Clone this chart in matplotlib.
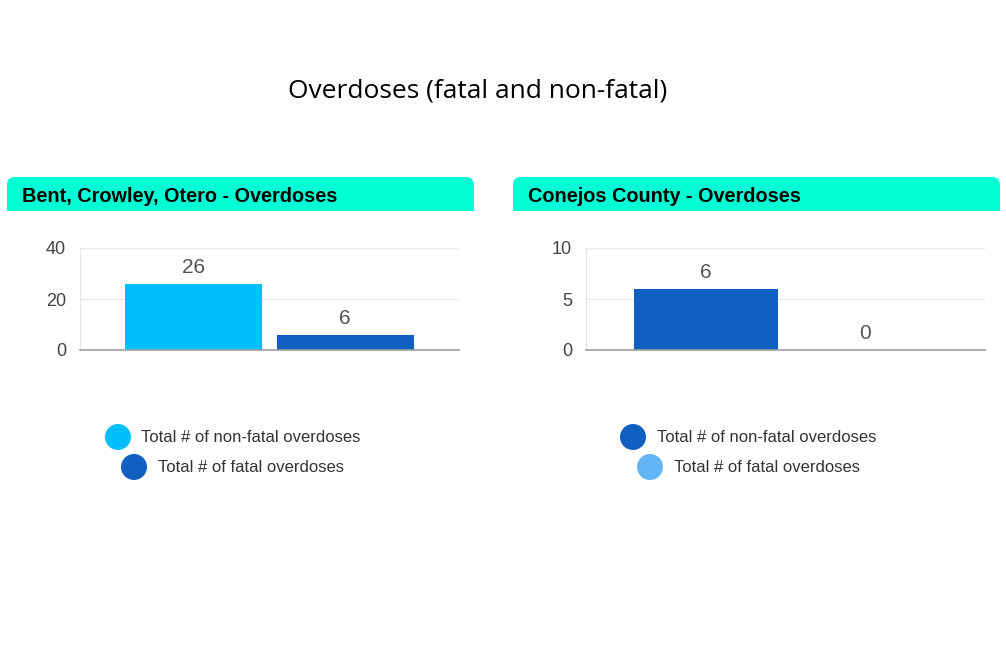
import matplotlib
matplotlib.use("Agg")
import matplotlib.pyplot as plt
from matplotlib.patches import FancyBboxPatch, Rectangle, Circle

W, H = 1006, 649

# ---- data ----
title = "Overdoses (fatal and non-fatal)"
panel_titles = ["Bent, Crowley, Otero - Overdoses", "Conejos County - Overdoses"]
series_names = ["Total # of non-fatal overdoses", "Total # of fatal overdoses"]
left_values = [26, 6]
right_values = [6, 0]
left_ticks = [0, 20, 40]
right_ticks = [0, 5, 10]
left_colors = ["#00BFFF", "#1160C1"]
right_colors = ["#1160C1", "#64B5F6"]

fig = plt.figure(figsize=(W / 100, H / 100), dpi=100)
fig.patch.set_facecolor("white")

# overlay in pixel coordinates
ov = fig.add_axes([0, 0, 1, 1])
ov.set_xlim(0, W)
ov.set_ylim(H, 0)
ov.axis("off")
ov.set_zorder(0)

ov.text(478, 91, title, ha="center", va="center", fontsize=19,
        family="Open Sans", color="black")

HEADER = "#00FFD5"
for x0, x1, txt in [(7, 474, panel_titles[0]), (513, 1000, panel_titles[1])]:
    ov.add_patch(FancyBboxPatch((x0, 177), x1 - x0, 34,
                                boxstyle="round,pad=0,rounding_size=8",
                                fc=HEADER, ec="none"))
    ov.add_patch(Rectangle((x0, 195), x1 - x0, 16, fc=HEADER, ec="none"))
    ov.text(x0 + 15, 196, txt, ha="left", va="center", fontsize=14.3,
            family="Liberation Sans", fontweight="bold", color="black")


def px_axes(x0, x1, ytop, ybot):
    return fig.add_axes([x0 / W, 1 - ybot / H, (x1 - x0) / W, (ybot - ytop) / H])


def panel(ax, values, ticks, colors):
    xs = list(range(len(values)))
    bars = ax.bar(xs, values, width=0.9, color=colors, zorder=3)
    ax.set_xlim(-0.75, 1.75)
    ax.set_ylim(ticks[0], ticks[-1])
    ax.set_yticks(ticks)
    ax.set_xticks([])
    for s in ["top", "right"]:
        ax.spines[s].set_visible(False)
    ax.spines["left"].set_color("#e6e6e6")
    ax.spines["bottom"].set_color("#9e9e9e")
    ax.spines["bottom"].set_linewidth(1.2)
    ax.spines["bottom"].set_zorder(4)
    ax.grid(axis="y", color="#e8e8e8", linewidth=1, zorder=0)
    ax.tick_params(axis="y", length=0, labelsize=13, labelcolor="#444444", pad=10)
    for t in ax.get_yticklabels():
        t.set_family("Liberation Sans")
    for b, v in zip(bars, values):
        ax.annotate(str(v), (b.get_x() + b.get_width() / 2, v),
                    xytext=(0, 5), textcoords="offset points",
                    ha="center", va="bottom", fontsize=15,
                    family="Liberation Sans", color="#555555")
    ax.set_facecolor("none")


axL = px_axes(80, 459, 248, 350)
panel(axL, left_values, left_ticks, left_colors)
axR = px_axes(586, 985, 248, 350)
panel(axR, right_values, right_ticks, right_colors)

# legends
for (cx, cy, tx), name, col in [((118, 437, 141), series_names[0], left_colors[0]),
                                ((134, 467, 158), series_names[1], left_colors[1]),
                                ((633, 437, 657), series_names[0], right_colors[0]),
                                ((650, 467, 674), series_names[1], right_colors[1])]:
    ov.add_patch(Circle((cx, cy), 13, fc=col, ec="none"))
    ov.text(tx, cy + 1, name, ha="left", va="center", fontsize=12,
            family="Liberation Sans", color="#333333")

fig.savefig("out.png", dpi=100)
